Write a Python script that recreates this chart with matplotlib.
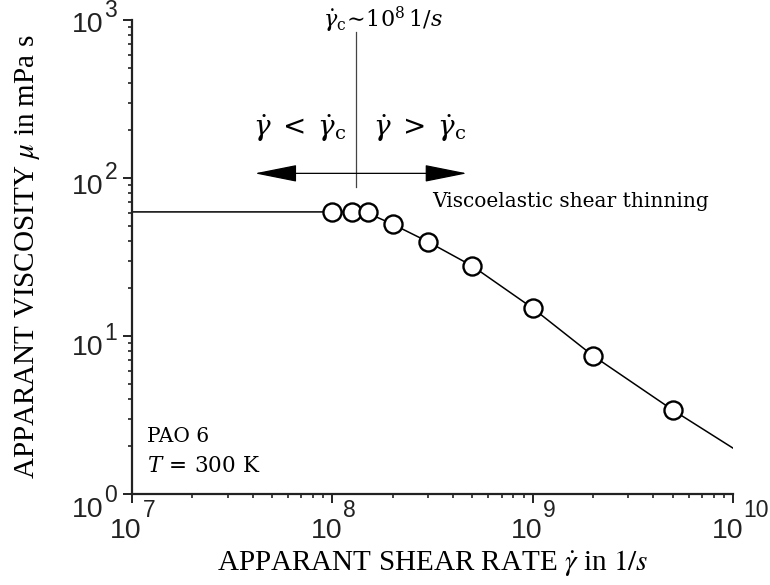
import numpy as np
import matplotlib
matplotlib.use("Agg")
import matplotlib.pyplot as plt
from matplotlib.transforms import blended_transform_factory, offset_copy

plt.rcParams['font.family'] = ['Liberation Sans', 'DejaVu Sans']
plt.rcParams['mathtext.fontset'] = 'stix'

# measured points (apparent shear rate in 1/s, viscosity in mPa s)
shear_rate = [1.0e8, 1.25e8, 1.5e8, 2e8, 3e8, 5e8, 1e9, 2e9, 5e9]
viscosity = [61, 61, 61, 51, 39.5, 27.7, 15.0, 7.5, 3.4]

# fitted curve
fit_rate = [1e7, 1.0e8, 1.3e8, 1.5e8, 2e8, 3e8, 5e8, 1e9, 2e9, 5e9, 1e10]
fit_visc = [61, 61, 61, 60, 51, 39.5, 27.7, 15.0, 7.5, 3.4, 1.95]

gamma_c = 1.32e8   # critical shear rate marker

x_ticks = [1e7, 1e8, 1e9, 1e10]
x_exps = ['7', '8', '9', '10']
y_ticks = [1e3, 1e2, 1e1, 1e0]
y_exps = ['3', '2', '1', '0']

SERIF = ['Liberation Serif', 'DejaVu Serif']
CAMB = ['DejaVu Serif']
TICKC = '#222222'

fig = plt.figure(figsize=(7.7, 5.85), dpi=100)
ax = fig.add_axes([0.1714, 0.1556, 0.7806, 0.8102])

ax.plot(fit_rate, fit_visc, color='black', lw=1.1, zorder=2)
ax.plot(shear_rate, viscosity, 'o', ms=13, mfc='white', mec='black',
        mew=1.7, zorder=3)

ax.set_xscale('log')
ax.set_yscale('log')
ax.set_xlim(1e7, 1e10)
ax.set_ylim(1e0, 1e3)
ax.set_xticks(x_ticks)
ax.set_yticks(y_ticks)

for s in ['top', 'right']:
    ax.spines[s].set_visible(False)
for s in ['left', 'bottom']:
    ax.spines[s].set_linewidth(1.6)
    ax.spines[s].set_color(TICKC)

ax.tick_params(which='major', direction='out', length=6.3, width=1.4,
               colors=TICKC, labelbottom=False, labelleft=False)
ax.tick_params(which='minor', direction='out', length=3, width=1.2,
               colors=TICKC, labelbottom=False, labelleft=False)

# tick labels drawn by hand: "10" with a raised exponent
xt = blended_transform_factory(ax.transData, ax.transAxes)
for v, e in zip(x_ticks, x_exps):
    ax.text(v, 0, '10', fontsize=20.5, color=TICKC, ha='right', va='baseline',
            transform=offset_copy(xt, fig=fig, x=10, y=-44.5, units='dots'))
    ax.text(v, 0, e, fontsize=16.5, color=TICKC, ha='left', va='baseline',
            transform=offset_copy(xt, fig=fig, x=10.5, y=-23.5, units='dots'))

yt = blended_transform_factory(ax.transAxes, ax.transData)
for k, (v, e) in enumerate(zip(y_ticks, y_exps)):
    dy = 12.3 + k * 3.6
    ax.text(0, v, '10', fontsize=20.5, color=TICKC, ha='right', va='baseline',
            transform=offset_copy(yt, fig=fig, x=-28, y=-dy, units='dots'))
    ax.text(0, v, e, fontsize=16.5, color=TICKC, ha='left', va='baseline',
            transform=offset_copy(yt, fig=fig, x=-27.5, y=-dy + 15,
                                  units='dots'))

# annotations
ax.plot([gamma_c, gamma_c], [88, 843], color='#444444', lw=0.9, zorder=1)
ax.annotate('', xy=(4.1e7, 107), xytext=(4.7e8, 107),
            arrowprops=dict(arrowstyle='<|-|>,head_length=27,head_width=5.4',
                            mutation_scale=1, color='black', lw=0.9,
                            shrinkA=0, shrinkB=0))
ax.text(1.79e8, 1000, r'$\dot{\gamma}_\mathrm{c}\!\sim\!10^8\,1/s$', fontsize=16,
        ha='center', va='center', clip_on=False, math_fontfamily='dejavuserif')
ax.text(6.9e7, 207, r'$\dot{\gamma}\;<\;\dot{\gamma}_\mathrm{c}$', fontsize=20,
        ha='center', va='center', math_fontfamily='dejavuserif')
ax.text(2.74e8, 207, r'$\dot{\gamma}\;>\;\dot{\gamma}_\mathrm{c}$', fontsize=20,
        ha='center', va='center', math_fontfamily='dejavuserif')
ax.text(3.15e8, 70.5, 'Viscoelastic shear thinning', fontsize=14.5,
        family=CAMB, ha='left', va='center')
ax.text(0.025, 0.122, 'PAO 6', fontsize=14.5, family=CAMB,
        transform=ax.transAxes, ha='left', va='center')
ax.text(0.025, 0.059, r'$T\,=\,300\ \mathrm{K}$', fontsize=15.5, family=CAMB,
        transform=ax.transAxes, ha='left', va='center',
        math_fontfamily='dejavuserif')

ax.set_xlabel(r'APPARANT SHEAR RATE $\dot{\gamma}$ in $1/s$', fontsize=21,
              family=SERIF)
ax.set_ylabel(r'APPARANT VISCOSITY $\mu$ in mPa s', fontsize=21,
              family=SERIF)
ax.xaxis.set_label_coords(0.5, -0.115)
ax.yaxis.set_label_coords(-0.15, 0.5)

fig.savefig('out.png', dpi=100)
